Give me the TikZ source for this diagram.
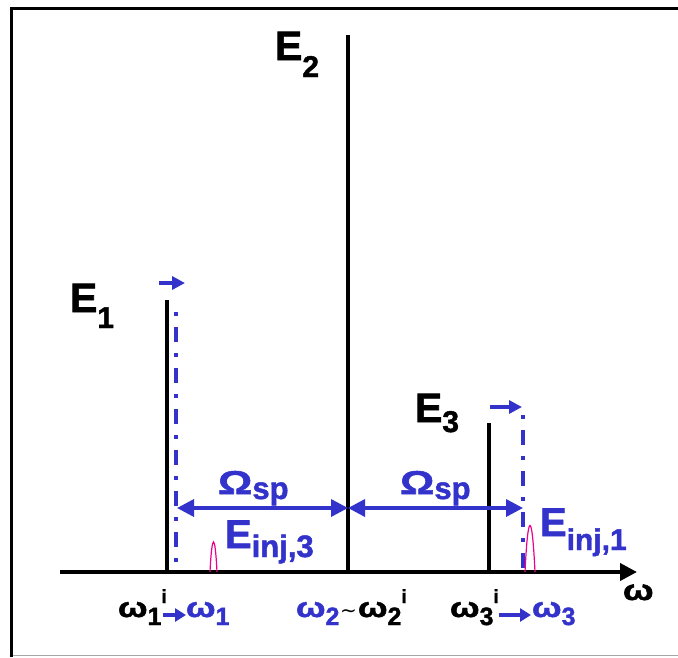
\documentclass[tikz,border=0pt]{standalone}
\usepackage{fontspec}
\setmainfont{Liberation Sans}[BoldFont={Liberation Sans Bold}, BoldFeatures={FakeBold=1.5}]
\newfontfamily\djv{DejaVu Sans}
\usetikzlibrary{arrows.meta}
\definecolor{myblue}{RGB}{51,51,204}
\newcommand\myfs[1]{\fontsize{#1}{#1}\selectfont\bfseries}
\newcommand\wom{\scalebox{1.25}[1]{ω}}
\tikzset{
  lab/.style={inner sep=0pt, outer sep=0pt, anchor=base west},
  specline/.style={line width=3.5pt, black},
  injline/.style={line width=3.5pt, myblue, dash pattern=on 4pt off 11pt on 15pt off 11pt},
  shiftarrow/.style={line width=3.5pt, myblue, -{Triangle[length=13pt,width=13pt]}},
  sparrow/.style={line width=3.5pt, myblue, {Triangle[length=17pt,width=17pt]}-{Triangle[length=17pt,width=17pt]}},
  pulse/.style={line width=1.2pt, magenta},
  smallarrow/.style={line width=3.5pt, myblue, -{Triangle[length=11pt,width=13pt]}}
}
\begin{document}
\begin{tikzpicture}[x=1pt,y=-1pt]
\useasboundingbox (0,0) rectangle (678,657);
% frame
\draw[line width=3.5pt] (11.7,657) -- (11.7,8.5) -- (678,8.5);
\draw[line width=1.5pt, black!35] (13,655.5) -- (678,655.5);

% axis
\coordinate (ax0) at (60,572);
\coordinate (ax1) at (637,572);
\draw[line width=4pt, -{Triangle[length=17pt,width=17pt]}] (ax0) -- (ax1);

% spectral lines
\coordinate (l1t) at (167,300); \coordinate (l1b) at (167,572);
\coordinate (l2t) at (348,35);  \coordinate (l2b) at (348,572);
\coordinate (l3t) at (489,423); \coordinate (l3b) at (489,572);
\draw[specline] (l1t) -- (l1b);
\draw[specline] (l2t) -- (l2b);
\draw[specline] (l3t) -- (l3b);

% injected (shifted) lines
\coordinate (i1t) at (176,312); \coordinate (i1b) at (176,572);
\coordinate (i3t) at (523,415); \coordinate (i3b) at (523,572);
\draw[injline] (i1t) -- (i1b);
\draw[injline] (i3t) -- (i3b);

% shift arrows
\coordinate (s1a) at (159,283); \coordinate (s1b) at (185,283);
\coordinate (s3a) at (490,407); \coordinate (s3b) at (522,407);
\draw[shiftarrow] (s1a) -- (s1b);
\draw[shiftarrow] (s3a) -- (s3b);

% Omega_sp arrows
\coordinate (o1) at (177,508); \coordinate (o2) at (348,508); \coordinate (o3) at (523,508);
\draw[sparrow] (o1) -- (o2);
\draw[sparrow] (o2) -- (o3);

% magenta pulses
\draw[pulse] (210,572) .. controls (212,532) and (215,532) .. (217,572);
\draw[pulse] (525,572) .. controls (528,510) and (532,510) .. (535,572);

% labels E
\node[lab] (E1) at (70,312) {\myfs{41}E\raisebox{-16pt}{\myfs{30}1}};
\node[lab] (E2) at (275,60) {\myfs{41}E\raisebox{-17pt}{\myfs{30}2}};
\node[lab] (E3) at (415,422) {\myfs{41}E\raisebox{-10pt}{\myfs{30}3}};

% Omega_sp labels
\node[lab, myblue] (Om1) at (218,494) {\myfs{33}\scalebox{1.3}[1]{Ω}\raisebox{-5pt}{\myfs{31}sp}};
\node[lab, myblue] (Om2) at (400,494) {\myfs{33}\scalebox{1.3}[1]{Ω}\raisebox{-5pt}{\myfs{31}sp}};

% E_inj labels
\node[lab, myblue] (Ei3) at (225,548) {\myfs{40}E\raisebox{-9pt}{\myfs{31}inj,3}};
\node[lab, myblue] (Ei1) at (540,536) {\myfs{40}E\raisebox{-14pt}{\myfs{30}inj,1}};

% axis label
\node[lab] (wax) at (623,600) {\myfs{29}\wom};

% bottom labels
\node[lab] (w1i) at (118,617) {\myfs{28}\wom\raisebox{-8pt}{\myfs{25}1}\raisebox{14pt}{\myfs{19}i}};
\node[lab, myblue] (w1) at (186,617) {\myfs{28}\wom\raisebox{-8pt}{\myfs{25}1}};
\coordinate (a1s) at (163,615); \coordinate (a1e) at (186,615);
\draw[smallarrow] (a1s) -- (a1e);

\node[lab, myblue] (w2) at (296,617) {\myfs{28}\wom\raisebox{-8pt}{\myfs{25}2}};
\node[lab] (tl) at (340,617) {\djv\fontsize{20}{20}\selectfont ∼};
\node[lab] (w2i) at (358,617) {\myfs{28}\wom\raisebox{-8pt}{\myfs{25}2}\raisebox{14pt}{\myfs{19}i}};

\node[lab] (w3i) at (450,617) {\myfs{28}\wom\raisebox{-8pt}{\myfs{25}3}\raisebox{14pt}{\myfs{19}i}};
\node[lab, myblue] (w3) at (532,617) {\myfs{28}\wom\raisebox{-8pt}{\myfs{25}3}};
\coordinate (a3s) at (499,615); \coordinate (a3e) at (531,615);
\draw[smallarrow] (a3s) -- (a3e);
\end{tikzpicture}
\end{document}
